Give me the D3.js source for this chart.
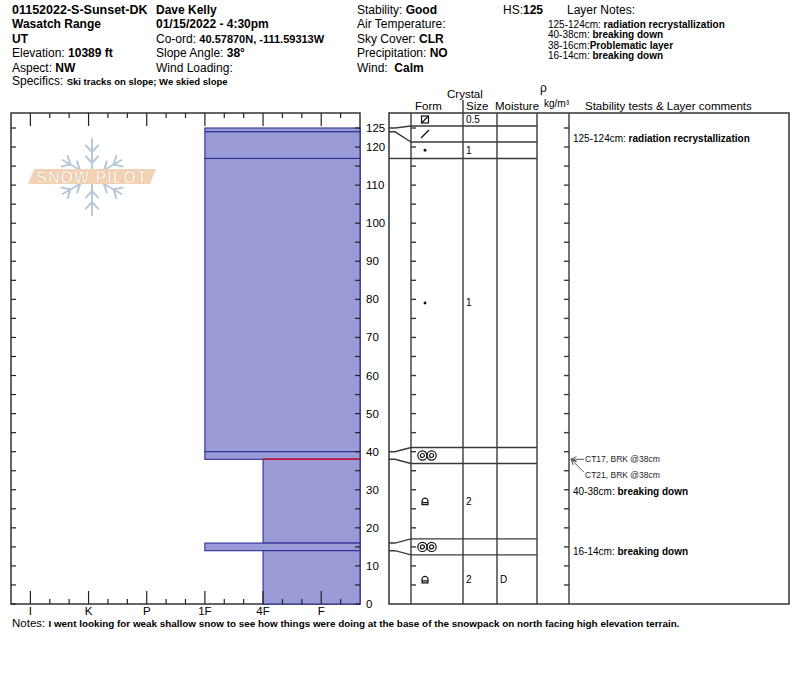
<!DOCTYPE html>
<html>
<head>
<meta charset="utf-8">
<script src="https://cdn.jsdelivr.net/npm/d3@7"></script>
<style>
  body { margin: 0; background: #fff; }
  svg { font-family: "Liberation Sans", Arial, sans-serif; }
</style>
</head>
<body>
<div class="chart"></div>
<script>
// Snow profile data
const hardnessLabels = ["I", "K", "P", "1F", "4F", "F"];
const layerTops = [125, 124, 117, 40, 38, 16, 14];
const layerBottoms = [124, 117, 40, 38, 16, 14, 0];
const layerHardness = ["1F", "1F", "1F", "1F", "4F", "1F", "4F"];
const layerForms = ["DF", "RG", "RG", "MFcr", "FCxr", "MFcr", "FCxr"];
const layerSizes = ["", "1", "1", "", "2", "", "2"];
const layerMoisture = ["", "", "", "", "", "", "D"];
const surfaceForm = "FCsf";
const surfaceSize = "0.5";
const depthTicks = d3.range(0, 126, 5);
const depthLabels = [0, 10, 20, 30, 40, 50, 60, 70, 80, 90, 100, 110, 120, 125];
const failureDepth = 38;
const testNames = ["CT17, BRK @38cm", "CT21, BRK @38cm"];
const testDepths = [38, 38];
const commentTops = [125, 40, 16];
const commentBottoms = [124, 38, 14];
const commentTexts = ["radiation recrystallization", "breaking down", "breaking down"];
const layerNoteRanges = ["125-124cm: ", "40-38cm: ", "38-16cm:", "16-14cm: "];
const layerNoteTexts = ["radiation recrystallization", "breaking down", "Problematic layer", "breaking down"];

const svg = d3.select(".chart").append("svg")
  .attr("width", 800)
  .attr("height", 676);

// profile area and table columns
const prof = { left: 11, right: 360, top: 113, bottom: 604 };
const cols = [389, 411, 463, 497, 537, 569, 789];
const minRow = 16, surfaceRow = 13;

const y = d3.scaleLinear().domain([0, 125]).range([prof.bottom, 128]);
const x = d3.scaleLinear().domain([-1 / 3, 17 / 3]).range([prof.left, prof.right]);
const hx = function (h) { return x(hardnessLabels.indexOf(h)); };

const layers = layerTops.map(function (t, i) {
  return { top: t, bottom: layerBottoms[i], hard: layerHardness[i],
    form: layerForms[i], size: layerSizes[i], moist: layerMoisture[i] };
});

// table row positions (set in drawTable)
let gridY = [];

drawHeader();
drawLogo();
drawProfile();
drawTable();
drawComments();
drawNotes();

// text with mixed normal / bold parts
function addText(g, px, py, parts, size) {
  const t = g.append("text").attr("x", px).attr("y", py)
    .style("font-size", size + "px").attr("fill", "#000");
  parts.forEach(function (p) {
    t.append("tspan").text(p[0])
      .style("font-weight", p[1] ? "bold" : "normal")
      .style("font-size", (p[2] || size) + "px");
  });
  return t;
}

function drawHeader() {
  const g = svg.append("g");
  const fs = 12, fb = 12;
  const rows = [13.5, 28, 42.5, 57, 71.5];
  const col1 = [[["01152022-S-Sunset-DK", 1, 12.5]], [["Wasatch Range", 1, fb]], [["UT", 1, fb]],
    [["Elevation: ", 0], ["10389 ft", 1, fb]], [["Aspect: ", 0], ["NW", 1, fb]]];
  const col2 = [[["Dave Kelly", 1, fb]], [["01/15/2022 - 4:30pm", 1, fb]],
    [["Co-ord: ", 0], ["40.57870N, -111.59313W", 1, 11]], [["Slope Angle: ", 0], ["38°", 1, fb]],
    [["Wind Loading:", 0]]];
  const col3 = [[["Stability: ", 0], ["Good", 1, fb]], [["Air Temperature:", 0]],
    [["Sky Cover: ", 0], ["CLR", 1, fb]], [["Precipitation: ", 0], ["NO", 1, fb]],
    [["Wind:  ", 0], ["Calm", 1, fb]]];
  rows.forEach(function (ry, i) {
    addText(g, 12, ry, col1[i], fs);
    addText(g, 156, ry, col2[i], fs);
    addText(g, 357, ry, col3[i], fs).attr("xml:space", "preserve");
  });
  addText(g, 12, 85, [["Specifics: ", 0], ["Ski tracks on slope; We skied slope", 1, 9.5]], fs);
  addText(g, 503, 13.5, [["HS:", 0], ["125", 1, fb]], fs);
  addText(g, 567, 13.5, [["Layer Notes:", 0]], 12);
  layerNoteRanges.forEach(function (r, i) {
    addText(g, 548, 27.5 + i * 10.5, [[r, 0], [layerNoteTexts[i], 1]], 10);
  });

  // table column headings
  addText(g, 447, 97.5, [["Crystal", 0]], 11.5);
  addText(g, 415, 110, [["Form", 0]], 11.5);
  addText(g, 466, 110, [["Size", 0]], 11.5);
  addText(g, 495, 110, [["Moisture", 0]], 11.5);
  addText(g, 540, 92, [["ρ", 0]], 12);
  addText(g, 544, 107, [["kg/m³", 0]], 10);
  addText(g, 585, 110, [["Stability tests & Layer comments", 0]], 11.5);
}

function drawLogo() {
  const g = svg.append("g").attr("transform", "translate(92,177)");
  const flake = g.append("g").attr("stroke", "#b7c8d9").attr("stroke-width", 2)
    .attr("fill", "none").attr("stroke-linecap", "round");
  [90, 30, 150, 270, 210, 330].forEach(function (a) {
    const r = a * Math.PI / 180;
    const len = (a === 90 || a === 270) ? 38 : 34;
    flake.append("line").attr("x1", 0).attr("y1", 0)
      .attr("x2", len * Math.cos(r)).attr("y2", -len * Math.sin(r));
    [14, 25].forEach(function (d) {
      [-1, 1].forEach(function (s) {
        const b = r + s * 0.75;
        const bx = d * Math.cos(r), by = -d * Math.sin(r);
        flake.append("line").attr("x1", bx).attr("y1", by)
          .attr("x2", bx + 9 * Math.cos(b)).attr("y2", by - 9 * Math.sin(b));
      });
    });
  });
  g.append("path").attr("d", "M-58,-8 H64 L58,7 H-64 Z").attr("fill", "#f3d3b6");
  g.append("text").attr("x", 0).attr("y", 5.5).attr("text-anchor", "middle")
    .style("font-size", "16px").style("font-weight", "bold").style("letter-spacing", "1px")
    .attr("fill", "#fff").attr("stroke", "#e9b98f").attr("stroke-width", 0.6)
    .text("SNOW PILOT");
}

function drawProfile() {
  const g = svg.append("g");
  g.append("rect").attr("x", prof.left).attr("y", prof.top)
    .attr("width", prof.right - prof.left).attr("height", prof.bottom - prof.top)
    .attr("fill", "none").attr("stroke", "#333").attr("stroke-width", 1.5);

  // hardness bars
  g.append("g").selectAll("rect").data(layers).join("rect")
    .attr("x", function (d) { return hx(d.hard); })
    .attr("y", function (d) { return y(d.top); })
    .attr("width", function (d) { return prof.right - hx(d.hard); })
    .attr("height", function (d) { return y(d.bottom) - y(d.top); })
    .attr("fill", "#9a9ad6").attr("stroke", "#2e2e96").attr("stroke-width", 1.1);

  // failure layer from stability tests
  const fl = layers.find(function (d) { return d.top === failureDepth; });
  g.append("line").attr("x1", hx(fl.hard)).attr("x2", prof.right)
    .attr("y1", y(failureDepth)).attr("y2", y(failureDepth))
    .attr("stroke", "#c8102e").attr("stroke-width", 1.6);

  // depth ticks both sides
  const tk = g.append("g").attr("stroke", "#222").attr("stroke-width", 1.2);
  depthTicks.forEach(function (d) {
    tk.append("line").attr("x1", prof.left).attr("x2", prof.left + 5)
      .attr("y1", y(d)).attr("y2", y(d));
    tk.append("line").attr("x1", prof.right - 5).attr("x2", prof.right)
      .attr("y1", y(d)).attr("y2", y(d));
  });
  g.append("g").selectAll("text").data(depthLabels).join("text")
    .attr("x", 366).attr("y", function (d) { return y(d) + 4; })
    .style("font-size", "11.5px").text(function (d) { return d; });

  // hardness ticks top and bottom
  d3.range(0, 17).forEach(function (k) {
    const len = k % 3 === 0 ? 13 : 5;
    const px = x(k / 3);
    tk.append("line").attr("x1", px).attr("x2", px).attr("y1", prof.top).attr("y2", prof.top + len);
    tk.append("line").attr("x1", px).attr("x2", px).attr("y1", prof.bottom - len).attr("y2", prof.bottom);
  });
  g.append("g").selectAll("text").data(hardnessLabels).join("text")
    .attr("x", function (d) { return hx(d); }).attr("y", 615)
    .attr("text-anchor", "middle").style("font-size", "11.5px")
    .text(function (d) { return d; });
}

// spread thin layers so each table row has room
function spreadRows(bounds, top) {
  const b = bounds.slice();
  for (let i = 0; i < b.length - 1; i++) {
    if (b[i + 1] - b[i] < minRow) {
      const c = (b[i] + b[i + 1]) / 2;
      b[i] = c - minRow / 2;
      b[i + 1] = c + minRow / 2;
    }
  }
  b[0] = Math.max(b[0], top);
  for (let i = 1; i < b.length; i++) b[i] = Math.max(b[i], b[i - 1] + minRow);
  b[b.length - 1] = prof.bottom;
  return b;
}

function drawTable() {
  const g = svg.append("g");
  const depths = layerTops.concat([0]);
  gridY = spreadRows(depths.map(y), prof.top + surfaceRow);

  g.append("rect").attr("x", cols[0]).attr("y", prof.top)
    .attr("width", cols[6] - cols[0]).attr("height", prof.bottom - prof.top)
    .attr("fill", "none").attr("stroke", "#333").attr("stroke-width", 1.5);
  const ln = g.append("g").attr("stroke", "#3a3a3a").attr("stroke-width", 1.4).attr("fill", "none");
  cols.slice(1, 6).forEach(function (cx) {
    ln.append("line").attr("x1", cx).attr("x2", cx)
      .attr("y1", cx === cols[2] ? 100 : prof.top).attr("y2", prof.bottom);
  });

  // row lines and connectors to real depths
  depths.slice(0, -1).forEach(function (d, i) {
    ln.append("line").attr("x1", cols[1]).attr("x2", cols[4])
      .attr("y1", gridY[i]).attr("y2", gridY[i]);
    ln.append("path").attr("d", "M" + cols[0] + "," + y(d) + "H" + (cols[0] + 6) +
      "L" + cols[1] + "," + gridY[i]);
  });

  // depth ticks on table
  depthTicks.slice(1).forEach(function (d) {
    ln.append("line").attr("x1", cols[1]).attr("x2", cols[1] + 5).attr("y1", y(d)).attr("y2", y(d));
    ln.append("line").attr("x1", cols[5] - 5).attr("x2", cols[5]).attr("y1", y(d)).attr("y2", y(d));
  });

  // row contents
  const rows = [{ form: surfaceForm, size: surfaceSize, moist: "", y0: prof.top, y1: gridY[0] }]
    .concat(layers.map(function (d, i) {
      return { form: d.form, size: d.size, moist: d.moist, y0: gridY[i], y1: gridY[i + 1] };
    }));
  rows.forEach(function (r) {
    const cy = (r.y0 + r.y1) / 2;
    drawGrain(g.append("g").attr("transform", "translate(425," + cy + ")"), r.form);
    addText(g, 466, cy + 3.5, [[r.size, 0]], 10);
    addText(g, 500, cy + 3.5, [[r.moist, 0]], 10);
  });
}

function drawGrain(g, form) {
  const s = g.attr("stroke", "#111").attr("fill", "none").attr("stroke-width", 1.2);
  if (form === "FCsf") {
    s.append("rect").attr("x", -3.5).attr("y", -3.5).attr("width", 7).attr("height", 7);
    s.append("line").attr("x1", -3.5).attr("y1", 3.5).attr("x2", 3.5).attr("y2", -3.5);
  } else if (form === "DF") {
    s.append("line").attr("x1", -4).attr("y1", 4).attr("x2", 4).attr("y2", -4);
  } else if (form === "RG") {
    s.append("circle").attr("r", 1.4).attr("fill", "#111").attr("stroke", "none");
  } else if (form === "MFcr") {
    [-4.6, 4.6].forEach(function (cx) {
      s.append("circle").attr("cx", cx + 2).attr("r", 4.6);
      s.append("circle").attr("cx", cx + 2).attr("r", 2);
    });
  } else if (form === "FCxr") {
    s.append("path").attr("d", "M-3,3.5V0A3,3 0 0 1 3,0V3.5ZM-3,1.5H3");
  }
}

function drawComments() {
  const g = svg.append("g");
  const items = testNames.map(function (t, i) {
    return { kind: "test", text: t, depth: testDepths[i], c: y(testDepths[i]) };
  }).concat(commentTexts.map(function (t, i) {
    const row = layerTops.indexOf(commentTops[i]);
    return { kind: "note", range: commentTops[i] + "-" + commentBottoms[i] + "cm: ",
      text: t, c: gridY[row + 1] - 3.5 };
  }));
  items.sort(function (a, b) { return a.c - b.c; });
  for (let i = 1; i < items.length; i++) items[i].c = Math.max(items[i].c, items[i - 1].c + 16);

  const ax = cols[5] + 2;
  items.forEach(function (it) {
    if (it.kind === "test") {
      const ty = y(it.depth);
      const sx = 584, sy = Math.abs(it.c - ty) < 1 ? it.c : it.c - 3;
      g.append("line").attr("x1", sx).attr("y1", sy).attr("x2", ax).attr("y2", ty)
        .attr("stroke", "#555").attr("stroke-width", 1);
      const ang = Math.atan2(sy - ty, sx - ax);
      [-0.45, 0.45].forEach(function (o) {
        g.append("line").attr("x1", ax).attr("y1", ty)
          .attr("x2", ax + 6 * Math.cos(ang + o)).attr("y2", ty + 6 * Math.sin(ang + o))
          .attr("stroke", "#555").attr("stroke-width", 1);
      });
      addText(g, 585, it.c + 3, [[it.text, 0]], 8.5).attr("fill", "#222");
    } else {
      addText(g, 573, it.c + 3.5, [[it.range, 0], [it.text, 1]], 10);
    }
  });
}

function drawNotes() {
  addText(svg, 12, 627, [["Notes: ", 0],
    ["I went looking for weak shallow snow to see how things were doing at the base of the snowpack on north facing high elevation terrain.", 1, 9.9]], 11.5);
}
</script>
</body>
</html>
